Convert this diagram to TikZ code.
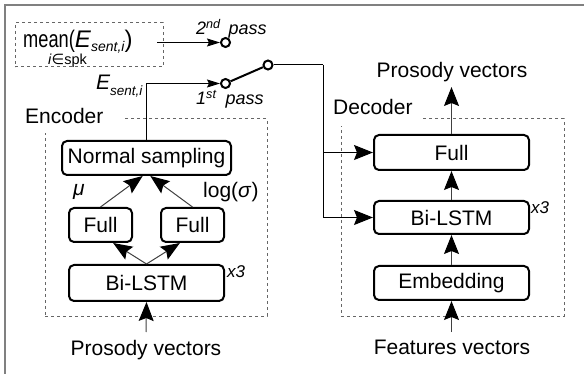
\documentclass[tikz,border=0pt]{standalone}
\usepackage{fontspec}
\setmainfont{Liberation Sans}
\newfontfamily\dejavu{DejaVu Sans}
\usetikzlibrary{arrows.meta}
\begin{document}
\begin{tikzpicture}[x=1pt,y=-1pt,
  box/.style={draw=black, line width=2pt, rounded corners=5pt, font=\fontsize{21}{25}\selectfont, inner sep=0pt},
  grp/.style={draw=black!60, dash pattern=on 3pt off 3pt, line width=1pt, inner sep=0pt},
  lbl/.style={font=\fontsize{21}{25}\selectfont, inner sep=0pt},
  small/.style={font=\fontsize{17}{20}\selectfont\itshape, inner sep=0pt},
  passlbl/.style={font=\fontsize{18}{21}\selectfont\itshape, inner sep=0pt},
  arr/.style={draw=black!75, line width=1pt, -{Stealth[length=19pt,width=15pt,inset=3pt,black]}},
  arrb/.style={draw=black, line width=1pt, -{Stealth[length=19pt,width=15pt,inset=3pt,black]}},
  sarr/.style={draw=black, line width=1pt, -{Stealth[length=13pt,width=8pt,inset=2pt]}},
  pinc/.style={circle, draw=black, line width=2pt, minimum size=9pt, inner sep=0pt, fill=white},
]
\useasboundingbox (0,0) rectangle (584,374);
\draw[black!50, line width=1.5pt] (5,374) -- (5,5) -- (584,5);

% groups
\node[grp, minimum width=222pt, minimum height=197pt] (enc) at (156,217.5) {};
\fill[white] (20,104) rectangle (123,133);
\node[lbl, anchor=base west] (enclbl) at (25,124) {Encoder};
\node[grp, minimum width=223pt, minimum height=197pt] (dec) at (452.5,217.5) {};
\fill[white] (328,98) rectangle (420,126);
\node[lbl, anchor=base west] (declbl) at (333,115) {Decoder};
\node[grp, minimum width=148pt, minimum height=44pt] (mbox) at (89,45) {};

% mean text
\node[anchor=base west, inner sep=0pt, font=\fontsize{24}{28}\selectfont] (mtxt) at (23,48)
  {\scalebox{0.76}[1]{mean(}\textit{E}\raisebox{-4pt}[0pt][0pt]{\fontsize{14}{14}\selectfont\itshape sent,i})};
\node[anchor=base west, inner sep=0pt, font=\fontsize{14.5}{17}\selectfont] (msub) at (48,64.5)
  {\textit{i}{\dejavu ∈}spk};

% encoder boxes
\node[box, minimum width=169pt, minimum height=34pt] (ns) at (146.5,158) {Normal sampling};
\node[box, minimum width=63pt, minimum height=34pt] (fl) at (100.5,225) {Full};
\node[box, minimum width=63pt, minimum height=34pt] (fr) at (192.5,225) {Full};
\node[box, minimum width=155pt, minimum height=36pt] (ebl) at (146.5,283) {Bi-LSTM};
\node[small, anchor=west] (ex3) at (227,272) {x3};
\node[lbl, font=\fontsize{21}{25}\selectfont\itshape] (mu) at (79,192) {μ};
\node[lbl, anchor=west] (lsig) at (203,192) {log(\textit{σ})};
\node[lbl, anchor=base] (pin) at (146,355) {Prosody vectors};
\coordinate (pinb) at (146,332);

% decoder boxes
\node[box, minimum width=155pt, minimum height=35pt] (dfull) at (451.5,152.5) {Full};
\node[box, minimum width=155pt, minimum height=33pt] (dbl) at (451.5,217.5) {Bi-LSTM};
\node[box, minimum width=155pt, minimum height=34pt] (demb) at (451.5,283) {Embedding};
\node[small, anchor=west] (dx3) at (531,208) {x3};
\node[lbl, anchor=base] (pout) at (452,78) {Prosody vectors};
\node[lbl, anchor=base] (fin) at (452,354) {Features vectors};
\coordinate (poutb) at (451.5,87);
\coordinate (finb) at (451.5,332);

% encoder arrows
\draw[arr] (pinb) -- (ebl.south);
\draw[arr] (ebl.north) -- (fl.-55);
\draw[arr] (ebl.north) -- (fr.-125);
\draw[arr] (fl.north) -- (ns.-102);
\draw[arr] (fr.north) -- (ns.-78);

% decoder arrows
\draw[arr] (finb) -- (demb.south);
\draw[arr] (demb.north) -- (dbl.south);
\draw[arr] (dbl.north) -- (dfull.south);
\draw[arr] (dfull.north) -- (poutb);

% switch
\node[pinc] (p2) at (225.5,42.5) {};
\node[pinc] (p1) at (225.5,83.5) {};
\node[pinc] (p0) at (268,65) {};
\draw[line width=2pt] (p1) -- (p0);
\coordinate (mo) at (157,42.5);
\draw[sarr] (mo) -- (p2);
\draw[sarr] (ns.north) |- (p1);
\coordinate (c1) at (323,65);
\draw[line width=1pt] (p0) -- (c1);
\draw[arrb] (c1) |- (dbl.west);
\draw[arrb] (c1) |- (dfull.west);

% labels
\node[anchor=base west, inner sep=0pt, font=\fontsize{21}{25}\selectfont\itshape] (esent) at (96,90)
  {E\raisebox{-6pt}{\fontsize{13.5}{14}\selectfont sent,i}};
\node[passlbl, anchor=base west] (pass2) at (196,35) {2\textsuperscript{nd}\hspace{3pt} pass};
\node[passlbl, anchor=base west] (pass1) at (196,105) {1\textsuperscript{st}\hspace{4pt} pass};
\end{tikzpicture}
\end{document}
